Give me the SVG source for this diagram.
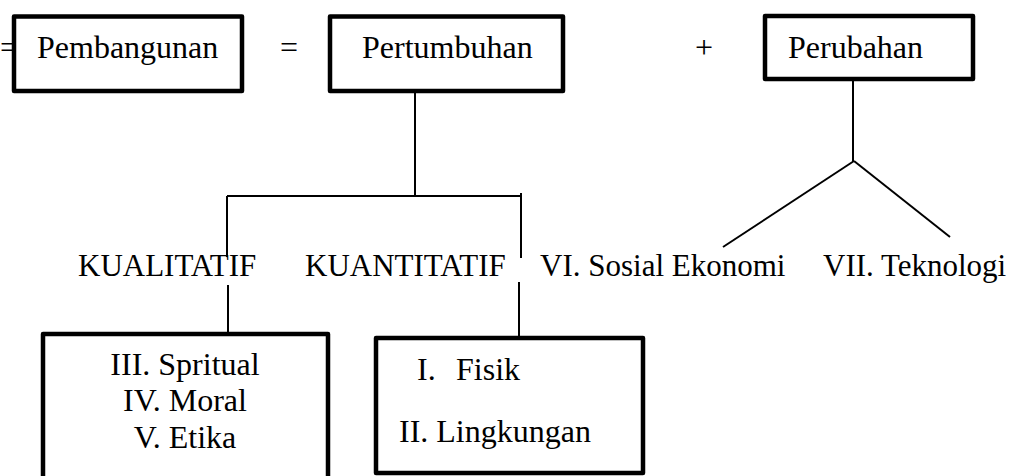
<svg xmlns="http://www.w3.org/2000/svg" width="1014" height="476" viewBox="0 0 1014 476">
<style>
.box{fill:#fff;stroke:#000;stroke-width:4.5;stroke-linejoin:round}
.ln{stroke:#000;stroke-width:2;fill:none}
text{font-family:'Liberation Serif','Times New Roman','DejaVu Serif',serif;font-size:32px;fill:#000}
.lb{font-size:31px}
.m{text-anchor:middle}
</style>
<rect width="1014" height="476" fill="#fff"/>
<text x="0" y="58" font-family="Liberation Serif, serif">=</text>
<text x="289" y="58" class="m" font-family="Liberation Serif, serif">=</text>
<text x="704" y="58" class="m" font-family="Liberation Serif, serif">+</text>
<g id="connectors">
<line class="ln" x1="415" y1="92" x2="415" y2="196"/>
<line class="ln" x1="227" y1="196" x2="521" y2="196"/>
<line class="ln" x1="227" y1="196" x2="227" y2="257"/>
<line class="ln" x1="521" y1="193" x2="521" y2="258"/>
<line class="ln" x1="228" y1="285" x2="228" y2="333"/>
<line class="ln" x1="519" y1="282" x2="519" y2="338"/>
<line class="ln" x1="853" y1="79" x2="853" y2="162"/>
<line class="ln" x1="854" y1="161" x2="723" y2="247"/>
<line class="ln" x1="854" y1="161" x2="950" y2="237"/>
</g>
<g id="pembangunan">
<rect class="box" x="14" y="16.5" width="228" height="74.5"/>
<text x="37" y="58" font-family="Liberation Serif, serif">Pembangunan</text>
</g>
<g id="pertumbuhan">
<rect class="box" x="330" y="16.5" width="233" height="74.5"/>
<text x="362" y="58" font-family="Liberation Serif, serif">Pertumbuhan</text>
</g>
<g id="perubahan">
<rect class="box" x="765" y="16" width="208" height="63"/>
<text x="788" y="58" font-family="Liberation Serif, serif">Perubahan</text>
</g>
<g id="labels">
<text x="78" y="276" class="lb" font-family="Liberation Serif, serif">KUALITATIF</text>
<text x="305" y="276" class="lb" font-family="Liberation Serif, serif">KUANTITATIF</text>
<text x="540" y="276" class="lb" font-family="Liberation Serif, serif">VI. Sosial Ekonomi</text>
<text x="823" y="276" class="lb" font-family="Liberation Serif, serif">VII. Teknologi</text>
</g>
<g id="kualitatif-box">
<rect class="box" x="43" y="334" width="285" height="160"/>
<text x="185" y="375" class="m" font-family="Liberation Serif, serif">III. Spritual</text>
<text x="185" y="411" class="m" font-family="Liberation Serif, serif">IV. Moral</text>
<text x="185" y="448" class="m" font-family="Liberation Serif, serif">V. Etika</text>
</g>
<g id="kuantitatif-box">
<rect class="box" x="376" y="338" width="267" height="135"/>
<text x="417" y="380" font-family="Liberation Serif, serif">I.</text>
<text x="456" y="380" font-family="Liberation Serif, serif">Fisik</text>
<text x="399" y="442" font-family="Liberation Serif, serif">II. Lingkungan</text>
</g>
</svg>
